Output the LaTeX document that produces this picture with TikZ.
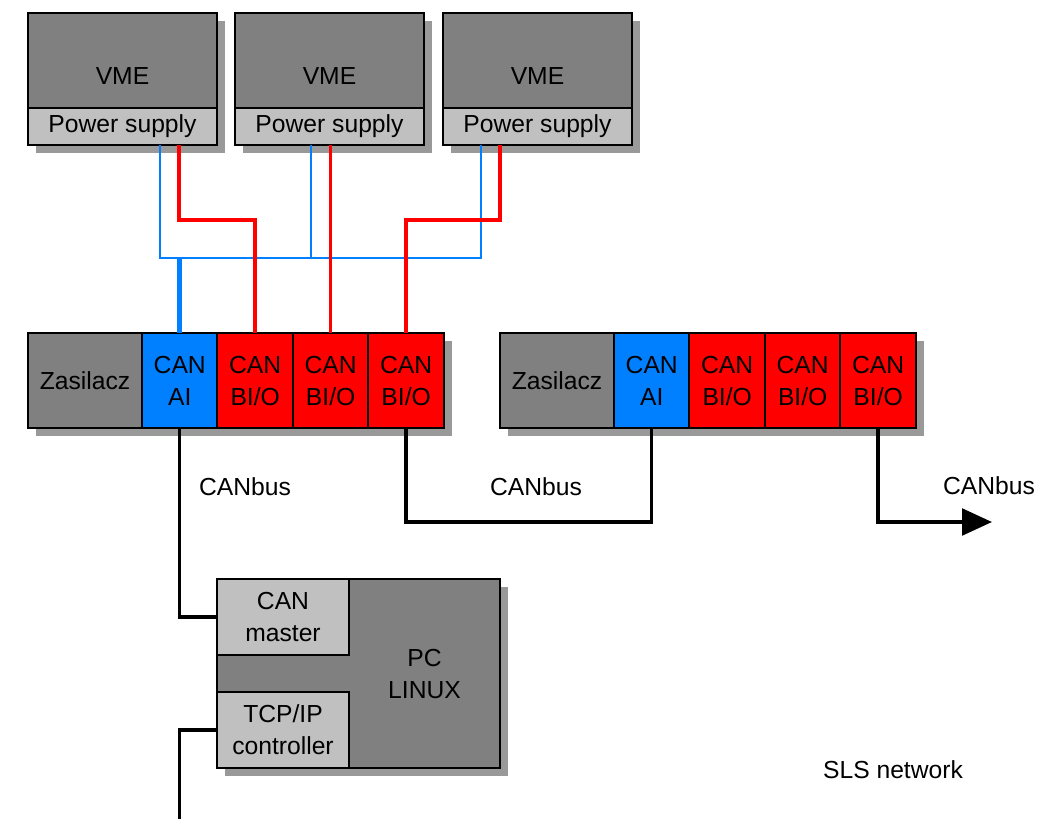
\documentclass[tikz,border=0pt]{standalone}
\usepackage{fontspec}
\setmainfont{Liberation Sans}
\usepackage{tikz}
\usetikzlibrary{calc,arrows.meta,positioning,backgrounds}
\definecolor{boxGray}{RGB}{128,128,128}
\definecolor{boxLight}{RGB}{192,192,192}
\definecolor{shadowGray}{RGB}{153,153,153}
\definecolor{canBlue}{RGB}{0,128,255}
\definecolor{canRed}{RGB}{255,0,0}

\begin{document}
\begin{tikzpicture}[x=0.75pt,y=-0.75pt,
  every node/.style={font=\fontsize{18.5}{24}\selectfont},
  cell/.style={draw, line width=1.5pt, inner sep=0pt, outer sep=0pt, align=center,
    minimum height=71.25pt, minimum width=56.6pt},
  shadowfill/.style={fill=shadowGray},
  feed/.style={canRed, line width=2.6pt},
  sense/.style={canBlue, line width=1.1pt},
  bus/.style={line width=2.6pt}]
\useasboundingbox (0,0) rectangle (1039,819);

% top: VME crates
\foreach \i/\x in {1/122.5,2/329.5,3/537.5}{
  \node[cell, fill=boxGray, minimum width=141.75pt,
    label={[yshift=-11.5pt]center:VME}] (vme\i) at (\x,60.5) {};
  \node[cell, fill=boxLight, minimum width=141.75pt, minimum height=27.75pt,
    below=0pt of vme\i] (ps\i) {Power supply};
}

% middle: module rows
\foreach \r/\x in {1/28,2/500}{
  \node[cell, fill=boxGray, minimum width=85.5pt, anchor=north west] (zas\r) at (\x,333) {Zasilacz};
  \node[cell, fill=canBlue, right=0pt of zas\r] (ai\r) {CAN\\AI};
  \node[cell, fill=canRed, right=0pt of ai\r] (bio\r1) {CAN\\BI/O};
  \node[cell, fill=canRed, right=0pt of bio\r1] (bio\r2) {CAN\\BI/O};
  \node[cell, fill=canRed, right=0pt of bio\r2] (bio\r3) {CAN\\BI/O};
}

% bottom: PC
\node[cell, fill=boxGray, minimum width=212.25pt, minimum height=141.75pt, anchor=north west,
  label={[xshift=49.5pt, align=center]center:PC\\LINUX}] (pc) at (217,579) {};
\node[cell, fill=boxLight, minimum width=99pt, minimum height=57pt, anchor=north west]
  (canm) at (pc.north west) {CAN\\master};
\node[cell, fill=boxLight, minimum width=99pt, minimum height=57pt, anchor=south west]
  (tcp) at (pc.south west) {TCP/IP\\controller};

\begin{scope}[on background layer]
\foreach \i in {1,2,3}
  \fill[shadowfill] ($(vme\i.north west)+(8,8)$) rectangle ($(ps\i.south east)+(8,8)$);
\foreach \r in {1,2}
  \fill[shadowfill] ($(zas\r.north west)+(8,8)$) rectangle ($(bio\r3.south east)+(8,8)$);
\fill[shadowfill] ($(pc.north west)+(8,8)$) rectangle ($(pc.south east)+(8,8)$);
\end{scope}

% power lines
\draw[sense] (ps1.south -| 160,0) -- ++(0,113) -| (ps3.south -| 481,0);
\draw[sense] (ps2.south -| 311,0) -- ++(0,113);
\draw[sense, line width=3.75pt] (ai1.north) -- ++(0,-75);
\draw[feed] (ps1.south -| 179,0) -- ++(0,75) -| (bio11.north);
\draw[feed] (ps2.south -| bio12.north) -- (bio12.north);
\draw[feed] (ps3.south -| 500,0) -- ++(0,75) -| (bio13.north);

% CANbus
\coordinate (net) at (ai1.south |- 0,819);
\coordinate (out) at (992,522);
\draw[bus] (ai1.south) |- (canm.west);
\draw[bus] (tcp.west) -| (net);
\draw[bus] (bio13.south) -- ++(0,94) -| (ai2.south);
\draw[bus, -{Triangle[length=22.5pt,width=20pt]}] (bio23.south) |- (out);

\node (bus1) at (245,487) {CANbus};
\node (bus2) at (536,487) {CANbus};
\node (bus3) at (989,486) {CANbus};
\node (sls) at (893,770) {SLS network};
\end{tikzpicture}
\end{document}
